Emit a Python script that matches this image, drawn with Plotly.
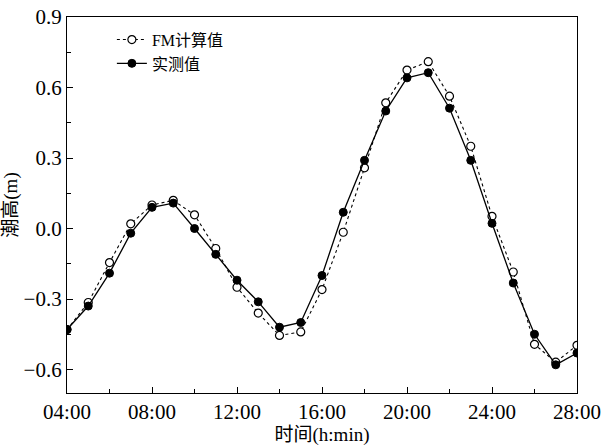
import plotly.graph_objects as go

# Hourly tide levels, 04:00 to 28:00 (hours since midnight of day 1)
hours = list(range(4, 29))
fm_calc = [-0.43, -0.315, -0.145, 0.02, 0.10, 0.12, 0.058, -0.085, -0.25, -0.36,
           -0.455, -0.44, -0.26, -0.016, 0.258, 0.535, 0.674, 0.71, 0.563, 0.35,
           0.052, -0.185, -0.493, -0.569, -0.497]
measured = [-0.43, -0.33, -0.19, -0.02, 0.09, 0.108, 0.0, -0.11, -0.22, -0.312,
            -0.42, -0.40, -0.20, 0.069, 0.29, 0.50, 0.641, 0.663, 0.512, 0.29,
            0.022, -0.232, -0.45, -0.58, -0.53]
x_tickvals = [4, 8, 12, 16, 20, 24, 28]
x_ticktext = ["04:00", "08:00", "12:00", "16:00", "20:00", "24:00", "28:00"]

series_names = ["FM计算值", "实测值"]

FONT = "Liberation Serif, Noto Sans CJK SC, serif"

fig = go.Figure()
fig.add_trace(go.Scatter(
    x=hours, y=fm_calc, name=series_names[0], mode="lines+markers",
    line=dict(color="black", width=1.1, dash="dot"),
    marker=dict(symbol="circle", size=8, color="white",
                line=dict(color="black", width=1.2)),
))
fig.add_trace(go.Scatter(
    x=hours, y=measured, name=series_names[1], mode="lines+markers",
    line=dict(color="black", width=1.3),
    marker=dict(symbol="circle", size=8, color="black",
                line=dict(color="black", width=1)),
))

axis_common = dict(
    showline=True, linecolor="black", linewidth=1.3, mirror=True,
    showgrid=False, zeroline=False, automargin=False,
    ticks="inside", ticklen=6, tickwidth=1.2, tickcolor="black",
    tickfont=dict(family=FONT, size=21, color="black"),
)

fig.update_layout(
    width=605, height=447,
    margin=dict(l=67, r=28, t=17, b=54),
    paper_bgcolor="white", plot_bgcolor="white",
    font=dict(family=FONT, color="black"),
    showlegend=True,
    legend=dict(
        x=0.088, y=0.985, xanchor="left", yanchor="top",
        bgcolor="rgba(0,0,0,0)", borderwidth=0,
        font=dict(family=FONT, size=16, color="black"),
        tracegroupgap=0, itemwidth=30,
    ),
    xaxis=dict(
        **axis_common,
        range=[4, 28],
        tickmode="array", tickvals=x_tickvals, ticktext=x_ticktext,
        minor=dict(ticks="inside", ticklen=4, tickwidth=1.2, tickcolor="black",
                   tick0=4, dtick=2),
        title=dict(text="时间(h:min)", font=dict(family=FONT, size=19), standoff=2),
    ),
    yaxis=dict(
        **axis_common,
        range=[-0.7, 0.9],
        tick0=0, dtick=0.3, tickformat=".1f",
        minor=dict(ticks="inside", ticklen=4, tickwidth=1.2, tickcolor="black",
                   tick0=0, dtick=0.15),
        title=dict(text="潮高(m)", font=dict(family=FONT, size=19), standoff=0),
    ),
)

fig.write_html("out.html")
